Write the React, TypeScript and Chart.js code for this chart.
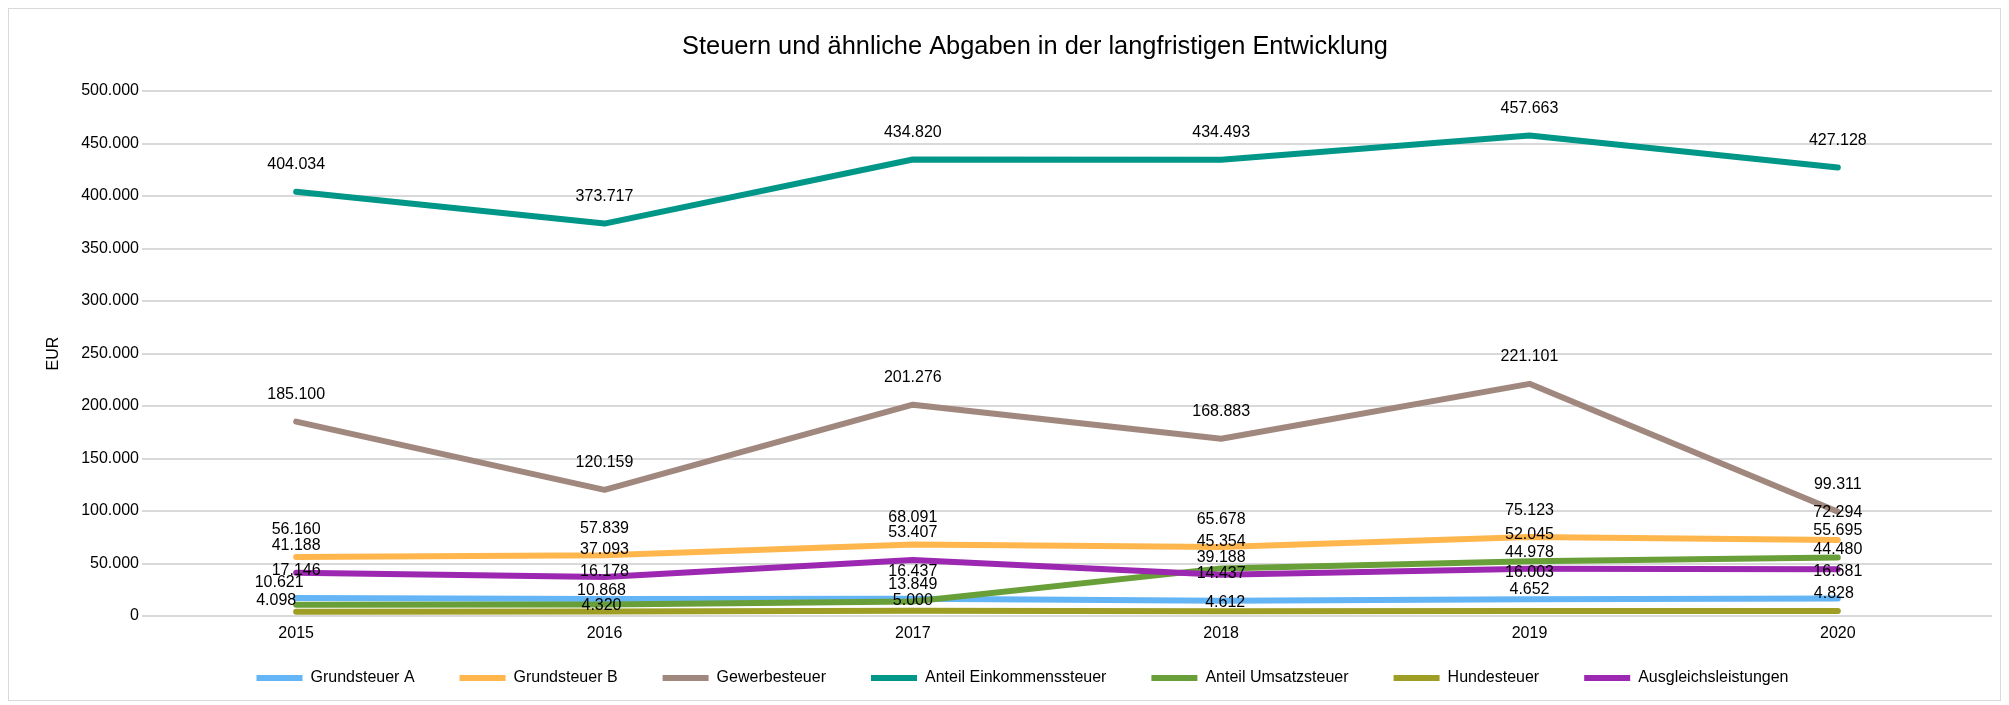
import React, { useEffect, useRef } from 'react';
import { Chart, registerables } from 'chart.js';

Chart.register(...registerables);

// ---------- data ----------
const TITLE = 'Steuern und ähnliche Abgaben in der langfristigen Entwicklung';
const Y_TITLE = 'EUR';
const YEARS = ['2015', '2016', '2017', '2018', '2019', '2020'];

const GRUNDSTEUER_A = [17146, 16178, 16437, 14437, 16003, 16681];
const GRUNDSTEUER_B = [56160, 57839, 68091, 65678, 75123, 72294];
const GEWERBESTEUER = [185100, 120159, 201276, 168883, 221101, 99311];
const ANTEIL_EINKOMMENSSTEUER = [404034, 373717, 434820, 434493, 457663, 427128];
const ANTEIL_UMSATZSTEUER = [10621, 10868, 13849, 45354, 52045, 55695];
const HUNDESTEUER = [4098, 4320, 5000, 4612, 4652, 4828];
const AUSGLEICHSLEISTUNGEN = [41188, 37093, 53407, 39188, 44978, 44480];

const Y_MIN = 0;
const Y_MAX = 500000;
const Y_STEP = 50000;

// ---------- styling ----------
const FONT = "'Liberation Sans', Arial, sans-serif";
const TEXT = '#000000';
const GRID = '#d9d9d9';

const SERIES = [
  { label: 'Grundsteuer A', data: GRUNDSTEUER_A, color: '#64b5f6' },
  { label: 'Grundsteuer B', data: GRUNDSTEUER_B, color: '#ffb74d' },
  { label: 'Gewerbesteuer', data: GEWERBESTEUER, color: '#a1887f' },
  { label: 'Anteil Einkommenssteuer', data: ANTEIL_EINKOMMENSSTEUER, color: '#009688' },
  { label: 'Anteil Umsatzsteuer', data: ANTEIL_UMSATZSTEUER, color: '#689f38' },
  { label: 'Hundesteuer', data: HUNDESTEUER, color: '#9e9d24' },
  { label: 'Ausgleichsleistungen', data: AUSGLEICHSLEISTUNGEN, color: '#9c27b0' },
];

// data-label placement (pixels above the point / horizontal nudge), default lift 27
const DEFAULT_LIFT = 27;
const LABEL_LIFT: Record<number, number[]> = {
  4: [22, 14, 17, 27, 27, 27],
  5: [11, 6, 10, 9, 22, 17],
  6: [27, 27, 27, 17, 16, 20],
};
const LABEL_DX: Record<number, number[]> = {
  4: [-17, -3, 0, 0, 0, 0],
  5: [-20, -3, 0, 4, 0, -4],
};

const fmt = (v: number) => String(Math.round(v)).replace(/\B(?=(\d{3})+(?!\d))/g, '.');

const titlePlugin = {
  id: 'customTitle',
  afterDraw(chart: any) {
    const ctx = chart.ctx;
    ctx.save();
    ctx.font = `25.4px ${FONT}`;
    ctx.fillStyle = TEXT;
    ctx.textAlign = 'center';
    ctx.textBaseline = 'middle';
    ctx.fillText(TITLE, 1026, 38);
    ctx.restore();
  },
};

// nudge the legend row (Excel places it closer to the axis and slightly right of centre)
const legendShiftPlugin = {
  id: 'legendShift',
  afterLayout(chart: any) {
    const lg = chart.legend;
    if (!lg) return;
    lg.top -= 18;
    lg.bottom -= 18;
    lg.left += 22;
    lg.right += 22;
  },
};

const dataLabelPlugin = {
  id: 'dataLabels',
  afterDatasetsDraw(chart: any) {
    const ctx = chart.ctx;
    ctx.save();
    ctx.font = `16px ${FONT}`;
    ctx.fillStyle = TEXT;
    ctx.textAlign = 'center';
    ctx.textBaseline = 'middle';
    chart.data.datasets.forEach((ds: any, di: number) => {
      const meta = chart.getDatasetMeta(di);
      if (meta.hidden) return;
      meta.data.forEach((pt: any, i: number) => {
        const lift = LABEL_LIFT[di] ? LABEL_LIFT[di][i] : DEFAULT_LIFT;
        const dx = LABEL_DX[di] ? LABEL_DX[di][i] : 0;
        ctx.fillText(fmt(ds.data[i]), pt.x + dx, pt.y - lift);
      });
    });
    ctx.restore();
  },
};

export default function App() {
  const canvasRef = useRef<HTMLCanvasElement | null>(null);

  useEffect(() => {
    if (!canvasRef.current) return;
    const n = SERIES.length;
    const chart = new Chart(canvasRef.current, {
      type: 'line',
      data: {
        labels: YEARS,
        datasets: SERIES.map((s, i) => ({
          label: s.label,
          data: s.data,
          borderColor: s.color,
          backgroundColor: s.color,
          borderWidth: 6,
          borderCapStyle: 'round',
          borderJoinStyle: 'round',
          pointRadius: 0,
          pointHoverRadius: 0,
          tension: 0,
          fill: false,
          order: n - i,
        })),
      },
      options: {
        animation: false,
        responsive: true,
        maintainAspectRatio: false,
        layout: { padding: { top: 82, left: 0, right: 8, bottom: -14 } },
        plugins: {
          title: { display: false },
          tooltip: { enabled: false },
          legend: {
            display: true,
            position: 'bottom',
            labels: {
              usePointStyle: true,
              pointStyle: 'line',
              pointStyleWidth: 46,
              padding: 45,
              color: TEXT,
              font: { family: FONT, size: 16 },
              sort: (a: any, b: any) => a.datasetIndex - b.datasetIndex,
            },
          },
        },
        scales: {
          x: {
            offset: true,
            grid: { display: false, drawTicks: false },
            border: { display: false },
            ticks: { padding: 8, color: TEXT, font: { family: FONT, size: 16 } },
            afterFit: (s: any) => {
              s.height = 27;
            },
          },
          y: {
            min: Y_MIN,
            max: Y_MAX,
            grid: { color: GRID, lineWidth: 2, drawTicks: false },
            border: { display: false },
            ticks: {
              stepSize: Y_STEP,
              padding: 3,
              color: TEXT,
              font: { family: FONT, size: 16 },
              callback: (v: any) => fmt(Number(v)),
            },
            title: {
              display: true,
              text: Y_TITLE,
              color: TEXT,
              font: { family: FONT, size: 16 },
              padding: { top: 35, bottom: 0 },
            },
            afterFit: (s: any) => {
              s.width = 133;
            },
          },
        },
      },
      plugins: [titlePlugin, legendShiftPlugin, dataLabelPlugin],
    } as any);
    return () => chart.destroy();
  }, []);

  return (
    <div
      style={{
        position: 'relative',
        width: '100%',
        height: 693,
        border: `1px solid ${GRID}`,
        boxSizing: 'border-box',
        background: '#ffffff',
      }}
    >
      <canvas ref={canvasRef} />
    </div>
  );
}
